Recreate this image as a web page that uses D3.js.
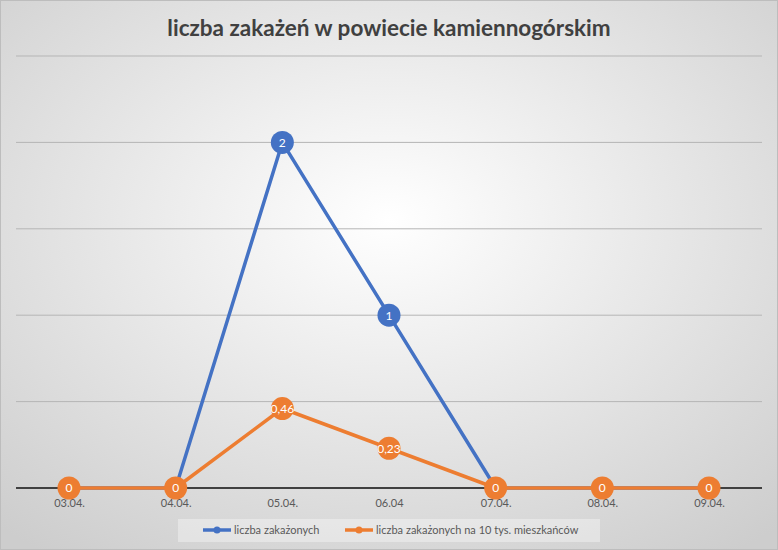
<!DOCTYPE html>
<html><head><meta charset="utf-8">
<script src="https://cdn.jsdelivr.net/npm/d3@7"></script>
<style>body{margin:0;padding:0;overflow:hidden}svg{display:block}</style>
</head><body>
<script>
const categories = ["03.04.","04.04.","05.04.","06.04","07.04.","08.04.","09.04."];
const seriesInfected = [0,0,2,1,0,0,0];
const seriesPer10k = [0,0,0.46,0.23,0,0,0];
const labelsInfected = ["","","2","1","","",""];
const labelsPer10k = ["0","0","0,46","0,23","0","0","0"];
const yTicks = [0,0.5,1,1.5,2,2.5];
const seriesNames = ["liczba zakażonych","liczba zakażonych na 10 tys. mieszkańców"];

const W=778,H=550;
const svg=d3.select("body").append("svg").attr("width",W).attr("height",H);
const defs=svg.append("defs");
const rg=defs.append("radialGradient").attr("id","bg").attr("cx","50%").attr("cy","40%").attr("r","75%");
rg.append("stop").attr("offset","0%").attr("stop-color","#ffffff");
rg.append("stop").attr("offset","100%").attr("stop-color","#cdcdcd");
svg.append("rect").attr("width",W).attr("height",H).attr("fill","url(#bg)");
svg.append("rect").attr("x",0.5).attr("y",0.5).attr("width",W-1).attr("height",H-1).attr("fill","none").attr("stroke","#bdbdbd");

const x=d3.scalePoint().domain(categories).range([69,709]);
const y=d3.scaleLinear().domain([0,2.5]).range([488,56]);

// gridlines
svg.append("g").selectAll("line").data(yTicks.filter(d=>d>0)).join("line")
 .attr("x1",16).attr("x2",762).attr("y1",d=>y(d)).attr("y2",d=>y(d))
 .attr("stroke","#b5b5b5").attr("stroke-width",1);

const font="Lato, 'Open Sans', sans-serif";

// x axis
const xa=svg.append("g").attr("transform",`translate(0,${y(0)})`)
 .call(d3.axisBottom(x).tickSize(0).tickPadding(11));
xa.select(".domain").remove();
xa.append("line").attr("x1",16).attr("x2",762).attr("stroke","#404040").attr("stroke-width",2);
xa.selectAll("text").attr("font-family",font).attr("font-size",11).attr("fill","#595959");

const line=d3.line().x((d,i)=>x(categories[i])).y(d=>y(d));

function drawSeries(vals,labels,color,showAll){
  svg.append("path").datum(vals).attr("d",line).attr("fill","none").attr("stroke",color).attr("stroke-width",3.5).attr("stroke-linejoin","round");
  const g=svg.append("g");
  vals.forEach((v,i)=>{
    if(!showAll && labels[i]==="") return;
    const cx=x(categories[i]), cy=y(v);
    g.append("circle").attr("cx",cx).attr("cy",cy).attr("r",11.5).attr("fill",color);
    g.append("text").attr("x",cx).attr("y",cy).attr("dy","0.36em").attr("text-anchor","middle")
     .attr("font-family",font).attr("font-size",12).attr("fill","#ffffff").text(labels[i]);
  });
}
drawSeries(seriesInfected,labelsInfected,"#4472C4",false);
drawSeries(seriesPer10k,labelsPer10k,"#ED7D31",true);

// title
svg.append("text").attr("x",389).attr("y",36).attr("text-anchor","middle")
 .attr("font-family",font).attr("font-weight","bold").attr("font-size",22.5).attr("fill","#404040")
 .text("liczba zakażeń w powiecie kamiennogórskim");

// legend
const lg=svg.append("g");
lg.append("rect").attr("x",178).attr("y",519).attr("width",422).attr("height",23).attr("fill","#ffffff").attr("fill-opacity",0.35);
const items=[{name:seriesNames[0],color:"#4472C4",x:203},{name:seriesNames[1],color:"#ED7D31",x:345}];
items.forEach(it=>{
  lg.append("line").attr("x1",it.x).attr("x2",it.x+28).attr("y1",530).attr("y2",530).attr("stroke",it.color).attr("stroke-width",3.5);
  lg.append("circle").attr("cx",it.x+14).attr("cy",530).attr("r",3.5).attr("fill",it.color);
  lg.append("text").attr("x",it.x+31).attr("y",530).attr("dy","0.35em").attr("font-family",font).attr("font-size",11).attr("fill","#595959").text(it.name);
});
</script>
</body></html>
